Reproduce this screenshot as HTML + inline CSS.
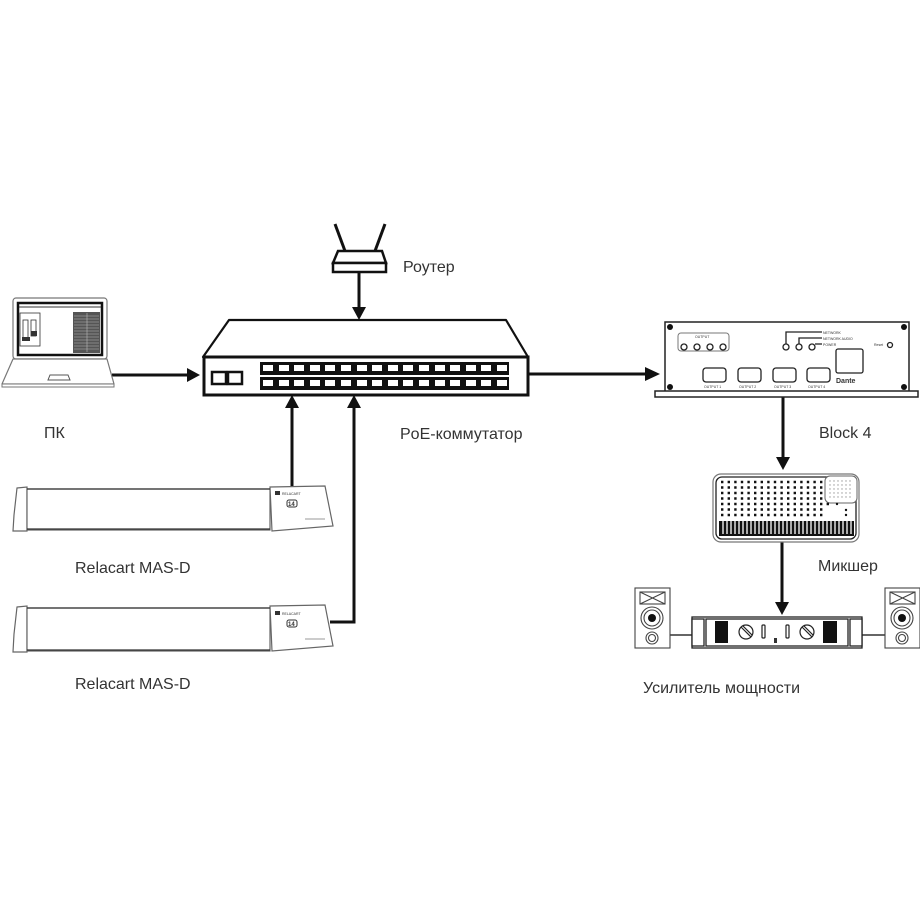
<!DOCTYPE html>
<html><head><meta charset="utf-8"><style>
html,body{margin:0;padding:0;background:#fff;}
svg{display:block;}
text{font-family:"Liberation Sans","DejaVu Sans",sans-serif;fill:#333;}
</style></head><body>
<svg width="920" height="920" viewBox="0 0 920 920" xmlns="http://www.w3.org/2000/svg">
<rect width="920" height="920" fill="#fff"/>

<!-- Router -->
<g stroke="#111" fill="#fff">
<line x1="335" y1="224" x2="345" y2="251" stroke-width="3"/>
<line x1="385" y1="224" x2="375" y2="251" stroke-width="3"/>
<polygon points="338,251 382,251 386,263 333,263" stroke-width="2.5"/>
<rect x="333" y="263" width="53" height="9" stroke-width="2.5"/>
</g>
<text x="403" y="272" font-size="16">Роутер</text>

<!-- Switch -->
<g stroke="#111" fill="#fff">
<polygon points="229,320 506,320 528,357 203,357" stroke-width="2.2" stroke-linejoin="round"/>
<rect x="204" y="357" width="324" height="38" stroke-width="3"/>
<rect x="212" y="372" width="14" height="12" stroke-width="2.5"/>
<rect x="228" y="372" width="14" height="12" stroke-width="2.5"/>
</g>
<rect x="260" y="362" width="249" height="13" fill="#111"/>
<rect x="260" y="377" width="249" height="13" fill="#111"/>
<g fill="#fff">
<rect x="263" y="365" width="10" height="6"/><rect x="279" y="365" width="10" height="6"/><rect x="294" y="365" width="10" height="6"/><rect x="310" y="365" width="10" height="6"/>
<rect x="325" y="365" width="10" height="6"/><rect x="341" y="365" width="10" height="6"/><rect x="357" y="365" width="10" height="6"/><rect x="372" y="365" width="10" height="6"/>
<rect x="388" y="365" width="10" height="6"/><rect x="403" y="365" width="10" height="6"/><rect x="419" y="365" width="10" height="6"/><rect x="435" y="365" width="10" height="6"/>
<rect x="450" y="365" width="10" height="6"/><rect x="466" y="365" width="10" height="6"/><rect x="481" y="365" width="10" height="6"/><rect x="497" y="365" width="10" height="6"/>
<rect x="263" y="380" width="10" height="6"/><rect x="279" y="380" width="10" height="6"/><rect x="294" y="380" width="10" height="6"/><rect x="310" y="380" width="10" height="6"/>
<rect x="325" y="380" width="10" height="6"/><rect x="341" y="380" width="10" height="6"/><rect x="357" y="380" width="10" height="6"/><rect x="372" y="380" width="10" height="6"/>
<rect x="388" y="380" width="10" height="6"/><rect x="403" y="380" width="10" height="6"/><rect x="419" y="380" width="10" height="6"/><rect x="435" y="380" width="10" height="6"/>
<rect x="450" y="380" width="10" height="6"/><rect x="466" y="380" width="10" height="6"/><rect x="481" y="380" width="10" height="6"/><rect x="497" y="380" width="10" height="6"/>
</g>
<text x="400" y="439" font-size="16">PoE-коммутатор</text>

<!-- Arrows -->
<g stroke="#111" stroke-width="3" fill="none">
<line x1="359" y1="272" x2="359" y2="308"/>
<line x1="112" y1="375" x2="188" y2="375"/>
<line x1="528" y1="374" x2="646" y2="374"/>
<line x1="292" y1="488" x2="292" y2="407"/>
<polyline points="330,622 354,622 354,407"/>
<line x1="783" y1="396" x2="783" y2="458"/>
<line x1="782" y1="542" x2="782" y2="603"/>
</g>
<g fill="#111">
<polygon points="352,307 366,307 359,320"/>
<polygon points="187,368 187,382 200,375"/>
<polygon points="645,367 645,381 660,374"/>
<polygon points="285,408 299,408 292,395"/>
<polygon points="347,408 361,408 354,395"/>
<polygon points="776,457 790,457 783,470"/>
<polygon points="775,602 789,602 782,615"/>
</g>

<!-- Laptop -->
<g>
<rect x="13" y="298" width="94" height="61" rx="3" fill="#fff" stroke="#777" stroke-width="1.2"/>
<rect x="18" y="303" width="84" height="52" fill="#fff" stroke="#111" stroke-width="2.5"/>
<line x1="19" y1="307" x2="101" y2="307" stroke="#333" stroke-width="1"/>
<rect x="20" y="313" width="20" height="33" fill="none" stroke="#333" stroke-width="0.8"/>
<rect x="23" y="320" width="5" height="20" fill="none" stroke="#333" stroke-width="0.8"/>
<rect x="31" y="320" width="5" height="16" fill="none" stroke="#333" stroke-width="0.8"/>
<rect x="31" y="331" width="6" height="5" fill="#333"/>
<rect x="22" y="337" width="8" height="4" fill="#333"/>
<rect x="73" y="312" width="27" height="41" fill="#555"/>
<g stroke="#bbb" stroke-width="0.6">
<line x1="74" y1="316" x2="99" y2="316"/><line x1="74" y1="319" x2="99" y2="319"/><line x1="74" y1="322" x2="99" y2="322"/><line x1="74" y1="325" x2="99" y2="325"/><line x1="74" y1="328" x2="99" y2="328"/><line x1="74" y1="331" x2="99" y2="331"/><line x1="74" y1="334" x2="99" y2="334"/><line x1="74" y1="337" x2="99" y2="337"/><line x1="74" y1="340" x2="99" y2="340"/><line x1="74" y1="343" x2="99" y2="343"/><line x1="74" y1="346" x2="99" y2="346"/><line x1="74" y1="349" x2="99" y2="349"/>
<line x1="87" y1="313" x2="87" y2="352"/>
</g>
<polygon points="13,359 107,359 114,384 2,384" fill="#fff" stroke="#777" stroke-width="1.2" stroke-linejoin="round"/>
<rect x="2" y="384" width="112" height="3" fill="#fff" stroke="#777" stroke-width="1"/>
<polygon points="50,375 68,375 70,380 48,380" fill="#fff" stroke="#555" stroke-width="1"/>
</g>
<text x="44" y="438" font-size="16">ПК</text>

<!-- Relacart 1 -->
<g stroke="#666" stroke-width="1.2" fill="#fff">
<polygon points="17,488 27,487 27,531 13,531 14,515"/>
<rect x="27" y="489" width="243" height="41"/>
<polygon points="270,487 325,486 333,526 272,531"/>
</g>
<line x1="27" y1="489" x2="270" y2="489" stroke="#333" stroke-width="1.3"/>
<line x1="27" y1="529" x2="270" y2="529" stroke="#333" stroke-width="1.3"/>
<rect x="275" y="491" width="5" height="4" fill="#333"/>
<text x="282" y="495" font-size="3.5" fill="#555">RELACART</text>
<rect x="287" y="500" width="10" height="7" rx="2" fill="#fff" stroke="#333" stroke-width="1"/>
<text x="288" y="506" font-size="6" font-weight="bold">14</text>
<line x1="305" y1="519" x2="325" y2="519" stroke="#999" stroke-width="1"/>
<text x="75" y="573" font-size="16">Relacart MAS-D</text>

<!-- Relacart 2 -->
<g stroke="#666" stroke-width="1.2" fill="#fff">
<polygon points="17,607 27,606 27,652 13,652 14,634"/>
<rect x="27" y="608" width="243" height="43"/>
<polygon points="270,606 325,605 333,646 272,651"/>
</g>
<line x1="27" y1="608" x2="270" y2="608" stroke="#333" stroke-width="1.3"/>
<line x1="27" y1="650" x2="270" y2="650" stroke="#333" stroke-width="1.3"/>
<rect x="275" y="611" width="5" height="4" fill="#333"/>
<text x="282" y="615" font-size="3.5" fill="#555">RELACART</text>
<rect x="287" y="620" width="10" height="7" rx="2" fill="#fff" stroke="#333" stroke-width="1"/>
<text x="288" y="626" font-size="6" font-weight="bold">14</text>
<line x1="305" y1="639" x2="325" y2="639" stroke="#999" stroke-width="1"/>
<text x="75" y="689" font-size="16">Relacart MAS-D</text>

<!-- Block 4 -->
<g stroke="#222" fill="#fff">
<rect x="665" y="322" width="244" height="70" stroke-width="1.5"/>
<rect x="655" y="391" width="263" height="6" stroke-width="1.5"/>
</g>
<g fill="#111">
<circle cx="670" cy="327" r="3"/><circle cx="904" cy="327" r="3"/>
<circle cx="670" cy="387" r="3"/><circle cx="904" cy="387" r="3"/>
</g>
<g stroke="#222" stroke-width="1.3" fill="#fff">
<rect x="678" y="333" width="51" height="18" rx="3" stroke="#777" stroke-width="1"/>
<circle cx="684" cy="347" r="3"/><circle cx="697" cy="347" r="3"/><circle cx="710" cy="347" r="3"/><circle cx="723" cy="347" r="3"/>
<circle cx="786" cy="347" r="3"/><circle cx="799" cy="347" r="3"/><circle cx="812" cy="347" r="3"/>
<polyline points="786,344 786,332 822,332" fill="none"/>
<polyline points="799,344 799,338 822,338" fill="none"/>
<polyline points="815,344 822,344" fill="none"/>
<rect x="836" y="349" width="27" height="24" rx="2"/>
<rect x="703" y="368" width="23" height="14" rx="3"/>
<rect x="738" y="368" width="23" height="14" rx="3"/>
<rect x="773" y="368" width="23" height="14" rx="3"/>
<rect x="807" y="368" width="23" height="14" rx="3"/>
<circle cx="890" cy="345" r="2.5"/>
</g>
<g font-size="3.5" fill="#777">
<text x="695" y="338">OUTPUT</text>
<text x="823" y="334">NETWORK</text>
<text x="823" y="340">NETWORK AUDIO</text>
<text x="823" y="346">POWER</text>
<text x="874" y="346">Reset</text>
<text x="704" y="388">OUTPUT 1</text>
<text x="739" y="388">OUTPUT 2</text>
<text x="774" y="388">OUTPUT 3</text>
<text x="808" y="388">OUTPUT 4</text>
</g>
<text x="836" y="383" font-size="7" font-weight="bold" fill="#333">Dante</text>
<text x="819" y="438" font-size="16">Block 4</text>

<!-- Mixer -->
<rect x="713" y="474" width="146" height="68" rx="8" fill="#fff" stroke="#777" stroke-width="1.2"/>
<rect x="716" y="477" width="140" height="62" rx="6" fill="#fff" stroke="#222" stroke-width="1.3"/>
<rect x="825" y="476" width="32" height="27" rx="5" fill="#fff" stroke="#666" stroke-width="1"/>
<g fill="#999">
<circle cx="830" cy="481" r="0.7"/><circle cx="834" cy="481" r="0.7"/><circle cx="838" cy="481" r="0.7"/><circle cx="842" cy="481" r="0.7"/><circle cx="846" cy="481" r="0.7"/><circle cx="850" cy="481" r="0.7"/>
<circle cx="830" cy="485" r="0.7"/><circle cx="834" cy="485" r="0.7"/><circle cx="838" cy="485" r="0.7"/><circle cx="842" cy="485" r="0.7"/><circle cx="846" cy="485" r="0.7"/><circle cx="850" cy="485" r="0.7"/>
<circle cx="830" cy="489" r="0.7"/><circle cx="834" cy="489" r="0.7"/><circle cx="838" cy="489" r="0.7"/><circle cx="842" cy="489" r="0.7"/><circle cx="846" cy="489" r="0.7"/><circle cx="850" cy="489" r="0.7"/>
<circle cx="830" cy="493" r="0.7"/><circle cx="834" cy="493" r="0.7"/><circle cx="838" cy="493" r="0.7"/><circle cx="842" cy="493" r="0.7"/><circle cx="846" cy="493" r="0.7"/><circle cx="850" cy="493" r="0.7"/>
<circle cx="830" cy="497" r="0.7"/><circle cx="834" cy="497" r="0.7"/><circle cx="838" cy="497" r="0.7"/><circle cx="842" cy="497" r="0.7"/><circle cx="846" cy="497" r="0.7"/><circle cx="850" cy="497" r="0.7"/>
</g>
<g stroke="#111" stroke-width="2.4" stroke-dasharray="2.4,4.2">
<line x1="721" y1="482" x2="823" y2="482"/>
<line x1="721" y1="487.5" x2="823" y2="487.5"/>
<line x1="721" y1="493" x2="823" y2="493"/>
<line x1="721" y1="498.5" x2="823" y2="498.5"/>
<line x1="721" y1="504" x2="832" y2="504"/>
<line x1="721" y1="509.5" x2="823" y2="509.5"/>
<line x1="721" y1="515" x2="823" y2="515"/>
</g>
<g fill="#111">
<circle cx="837" cy="504" r="1.2"/><circle cx="846" cy="510" r="1.2"/><circle cx="846" cy="515" r="1.2"/>
</g>
<rect x="719" y="521" width="135" height="15" fill="#111"/>
<g stroke="#fff" stroke-width="1.3">
<line x1="723" y1="521" x2="723" y2="534"/><line x1="727" y1="521" x2="727" y2="534"/><line x1="731" y1="521" x2="731" y2="534"/><line x1="735" y1="521" x2="735" y2="534"/><line x1="739" y1="521" x2="739" y2="534"/><line x1="743" y1="521" x2="743" y2="534"/><line x1="747" y1="521" x2="747" y2="534"/><line x1="751" y1="521" x2="751" y2="534"/><line x1="755" y1="521" x2="755" y2="534"/><line x1="759" y1="521" x2="759" y2="534"/><line x1="763" y1="521" x2="763" y2="534"/><line x1="767" y1="521" x2="767" y2="534"/><line x1="771" y1="521" x2="771" y2="534"/><line x1="775" y1="521" x2="775" y2="534"/><line x1="779" y1="521" x2="779" y2="534"/><line x1="783" y1="521" x2="783" y2="534"/><line x1="787" y1="521" x2="787" y2="534"/><line x1="791" y1="521" x2="791" y2="534"/><line x1="795" y1="521" x2="795" y2="534"/><line x1="799" y1="521" x2="799" y2="534"/><line x1="803" y1="521" x2="803" y2="534"/><line x1="807" y1="521" x2="807" y2="534"/><line x1="811" y1="521" x2="811" y2="534"/><line x1="815" y1="521" x2="815" y2="534"/><line x1="819" y1="521" x2="819" y2="534"/><line x1="823" y1="521" x2="823" y2="534"/><line x1="827" y1="521" x2="827" y2="534"/><line x1="831" y1="521" x2="831" y2="534"/><line x1="835" y1="521" x2="835" y2="534"/><line x1="839" y1="521" x2="839" y2="534"/><line x1="843" y1="521" x2="843" y2="534"/><line x1="847" y1="521" x2="847" y2="534"/><line x1="851" y1="521" x2="851" y2="534"/>
</g>
<text x="818" y="571" font-size="16">Микшер</text>

<!-- Speakers + wires -->
<g stroke="#333" stroke-width="1.5" fill="none">
<line x1="670" y1="635" x2="693" y2="635"/>
<line x1="862" y1="635" x2="886" y2="635"/>
</g>
<g stroke="#444" stroke-width="1.1" fill="#fff">
<rect x="635" y="588" width="35" height="60"/>
<rect x="640" y="592" width="25" height="12"/>
<line x1="640" y1="592" x2="665" y2="604"/><line x1="665" y1="592" x2="640" y2="604"/>
<circle cx="652" cy="618" r="11"/><circle cx="652" cy="618" r="8"/>
<circle cx="652" cy="638" r="6"/><circle cx="652" cy="638" r="3.5"/>
<rect x="885" y="588" width="35" height="60"/>
<rect x="890" y="592" width="25" height="12"/>
<line x1="890" y1="592" x2="915" y2="604"/><line x1="915" y1="592" x2="890" y2="604"/>
<circle cx="902" cy="618" r="11"/><circle cx="902" cy="618" r="8"/>
<circle cx="902" cy="638" r="6"/><circle cx="902" cy="638" r="3.5"/>
</g>
<circle cx="652" cy="618" r="4" fill="#111"/>
<circle cx="902" cy="618" r="4" fill="#111"/>

<!-- Amplifier -->
<g stroke="#222" stroke-width="1.3" fill="#fff">
<rect x="692" y="617" width="170" height="31"/>
<rect x="692" y="619" width="12" height="27"/>
<rect x="850" y="619" width="12" height="27"/>
<rect x="706" y="619" width="142" height="27"/>
</g>
<rect x="715" y="621" width="13" height="22" fill="#111"/>
<rect x="823" y="621" width="14" height="22" fill="#111"/>
<g stroke="#222" stroke-width="1.2" fill="#fff">
<circle cx="746" cy="632" r="7"/>
<circle cx="807" cy="632" r="7"/>
<line x1="741" y1="627" x2="751" y2="637"/>
<line x1="743" y1="626" x2="752" y2="635"/>
<line x1="802" y1="627" x2="812" y2="637"/>
<line x1="804" y1="626" x2="813" y2="635"/>
<rect x="762" y="625" width="3" height="13" rx="1"/>
<rect x="786" y="625" width="3" height="13" rx="1"/>
</g>
<rect x="774" y="638" width="3" height="5" fill="#333"/>
<text x="643" y="693" font-size="16">Усилитель мощности</text>
</svg>
</body></html>
